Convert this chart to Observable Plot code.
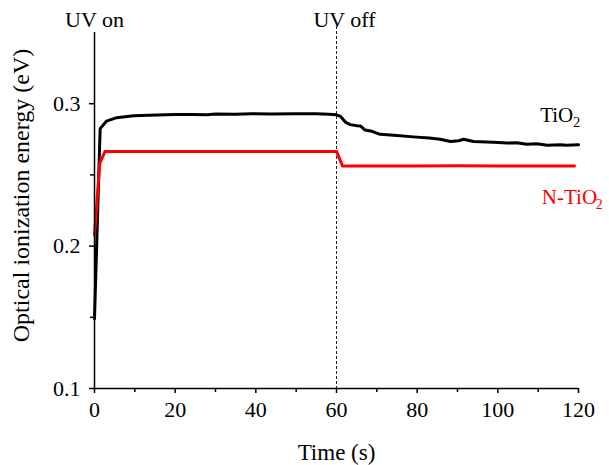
<!DOCTYPE html>
<html><head><meta charset="utf-8">
<script src="https://cdn.jsdelivr.net/npm/d3@7"></script>
<script src="https://cdn.jsdelivr.net/npm/@observablehq/plot@0.6"></script>
<style>body{margin:0;background:#fff}</style>
</head><body><div id="chart"></div>
<script>
// TiO2 series (time in s, optical ionization energy in eV)
const tio2Time = [0, 1.4, 3.0, 5.5, 9.7, 15.5, 20, 24, 28, 30, 35, 39, 44, 50, 55, 58, 60, 61, 62.2, 63.4, 65.1, 66, 67.1, 68.8, 70.8, 75, 79, 83, 85.7, 88.2, 90.3, 91.5, 94, 98.9, 102.3, 104.7, 107.2, 109.7, 112.2, 115.5, 117, 120];
const tio2Energy = [0.149, 0.2825, 0.2878, 0.2902, 0.2916, 0.2920, 0.2924, 0.2925, 0.2922, 0.2927, 0.2926, 0.2930, 0.2928, 0.2929, 0.2929, 0.2926, 0.2922, 0.2911, 0.2871, 0.2853, 0.2845, 0.2843, 0.2815, 0.2806, 0.2785, 0.2776, 0.2767, 0.2759, 0.2750, 0.2735, 0.2740, 0.2750, 0.2734, 0.2729, 0.2724, 0.2726, 0.2715, 0.2719, 0.2708, 0.2711, 0.2708, 0.2711];
// N-TiO2 series
const ntio2Time = [0, 1.3, 2.6, 60, 61.5, 80, 90, 100, 119];
const ntio2Energy = [0.2076, 0.258, 0.2665, 0.2665, 0.2562, 0.2563, 0.2564, 0.2563, 0.2562];

const xMajorTicks = [0, 20, 40, 60, 80, 100, 120];
const xMinorTicks = [10, 30, 50, 70, 90, 110];
const yMajorTicks = [0.1, 0.2, 0.3];
const yMinorTicks = [0.15, 0.25];
const uvOffTime = 60;
const uvOnTime = 0;

const tio2 = tio2Time.map((t, i) => ({t, e: tio2Energy[i]}));
const ntio2 = ntio2Time.map((t, i) => ({t, e: ntio2Energy[i]}));

const chart = Plot.plot({
  width: 609,
  height: 465,
  marginTop: 32,
  marginLeft: 94,
  marginRight: 31,
  marginBottom: 77,
  style: {fontFamily: "Liberation Serif", fontSize: "22px", color: "black", background: "white"},
  x: {domain: [0, 120]},
  y: {domain: [0.1, 0.35]},
  marks: [
    Plot.ruleX([uvOffTime], {stroke: "#222", strokeWidth: 1, strokeDasharray: "3,2", insetTop: -6}),
    Plot.line(tio2, {x: "t", y: "e", stroke: "black", strokeWidth: 3, strokeLinejoin: "round"}),
    Plot.line(ntio2, {x: "t", y: "e", stroke: "#ff0000", strokeWidth: 3, strokeLinejoin: "round"}),
    Plot.ruleX([0], {stroke: "black", strokeWidth: 1.5}),
    Plot.ruleY([0.1], {stroke: "black", strokeWidth: 1.5}),
    Plot.axisX({ticks: xMajorTicks, tickSize: 5, tickPadding: 8, strokeWidth: 1.5, fontSize: 22, label: null}),
    Plot.axisX({ticks: xMinorTicks, tickSize: 4, strokeWidth: 1.5, tickFormat: () => "", label: null}),
    Plot.axisY({ticks: yMajorTicks, tickSize: 5, tickPadding: 9, strokeWidth: 1.5, fontSize: 22, tickFormat: d3.format(".1f"), label: null}),
    Plot.axisY({ticks: yMinorTicks, tickSize: 4, strokeWidth: 1.5, tickFormat: () => "", label: null}),
    Plot.text(["Time (s)"], {frameAnchor: "bottom", textAnchor: "middle", lineAnchor: "bottom", dy: 71, fontSize: 23}),
    Plot.text(["Optical ionization energy (eV)"], {frameAnchor: "left", textAnchor: "middle", rotate: -90, dx: -73, dy: -15, fontSize: 24}),
    Plot.text([{t: uvOnTime, label: "UV on"}], {x: "t", text: "label", frameAnchor: "top", lineAnchor: "bottom", dy: -6, fontSize: 22}),
    Plot.text([{t: uvOffTime, label: "UV off"}], {x: "t", text: "label", frameAnchor: "top", lineAnchor: "bottom", dy: -6, dx: 8, fontSize: 22}),
    Plot.text([{t: 110.5, e: 0.2868}], {x: "t", y: "e", text: () => "TiO", textAnchor: "start", lineAnchor: "bottom", fontSize: 21, fill: "black"}),
    Plot.text([{t: 110.5, e: 0.2868}], {x: "t", y: "e", text: () => "2", textAnchor: "start", lineAnchor: "bottom", dx: 33, dy: 5, fontSize: 14, fill: "black"}),
    Plot.text([{t: 110.9, e: 0.2293}], {x: "t", y: "e", text: () => "N-TiO", textAnchor: "start", lineAnchor: "bottom", fontSize: 21, fill: "#ff0000"}),
    Plot.text([{t: 110.9, e: 0.2293}], {x: "t", y: "e", text: () => "2", textAnchor: "start", lineAnchor: "bottom", dx: 54, dy: 5, fontSize: 14, fill: "#ff0000"})
  ]
});
document.getElementById("chart").append(chart);
</script>
</body></html>
